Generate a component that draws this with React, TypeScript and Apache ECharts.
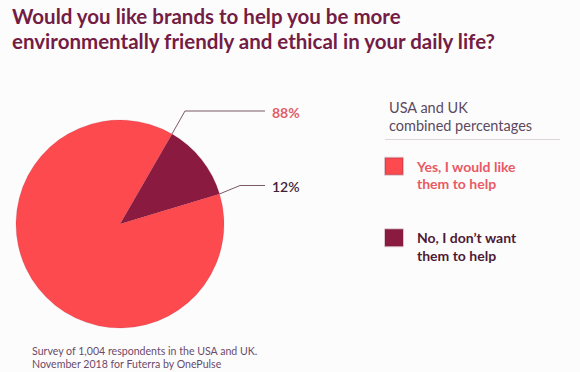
import React, { useEffect, useRef } from "react";
import * as echarts from "echarts";

const TITLE = "Would you like brands to help you be more\nenvironmentally friendly and ethical in your daily life?";
const LEGEND_HEADER = "USA and UK\ncombined percentages";
const FOOTER = "Survey of 1,004 respondents in the USA and UK.\nNovember 2018 for Futerra by OnePulse";

const categories = ["No, I don\u2019t want\nthem to help", "Yes, I would like\nthem to help"];
const values = [12, 88];
const labelTexts = ["12%", "88%"];
const legendOrder = [1, 0];

const COLORS = ["#8a1a40", "#fd4a4e"];
const LABEL_COLORS = ["#3d2236", "#e0606a"];
const LEGEND_COLORS = ["#4d1a36", "#e85a64"];

const CX = 120;
const CY = 224;
const R = 104;
const START_ANGLE = 60;

export default function App() {
  const ref = useRef<HTMLDivElement>(null);
  useEffect(() => {
    if (!ref.current) return;
    const chart = echarts.init(ref.current, null, { renderer: "svg" });
    const total = values.reduce((a, b) => a + b, 0);
    const boundaries: number[] = [];
    let acc = START_ANGLE;
    values.forEach((v) => {
      boundaries.push(acc);
      acc -= (v / total) * 360;
    });
    const pt = (deg: number) => {
      const a = (deg * Math.PI) / 180;
      return [CX + R * Math.cos(a), CY - R * Math.sin(a)];
    };
    const anchorAngles = [boundaries[0] - (values[0] / total) * 360, boundaries[0]];
    const elbows = [
      [240, 185.5],
      [185, 111],
    ];
    const labelX = 272;
    const lineEndX = 265;

    chart.setOption({
      animation: false,
      backgroundColor: "#fdfcfd",
      title: [
        {
          text: TITLE,
          left: 7,
          top: -1,
          textStyle: {
            fontFamily: "Lato",
            fontWeight: "bold",
            fontSize: 20.5,
            lineHeight: 24.5,
            color: "#731d45",
          },
        },
        {
          text: LEGEND_HEADER,
          left: 384,
          top: 93,
          textStyle: {
            fontFamily: "Lato",
            fontWeight: "normal",
            fontSize: 14.5,
            lineHeight: 18.5,
            color: "#5b4a5e",
          },
        },
        {
          text: FOOTER,
          left: 27,
          top: 340,
          textStyle: {
            fontFamily: "Lato",
            fontWeight: "normal",
            fontSize: 10.6,
            lineHeight: 12.4,
            color: "#6b4b68",
          },
        },
      ],
      legend: {
        orient: "vertical",
        left: 384,
        top: 140,
        padding: 0,
        itemWidth: 18,
        itemHeight: 17,
        itemGap: 19,
        icon: "rect",
        selectedMode: false,
        formatter: (name: string) => "\n" + name,
        data: legendOrder.map((i) => ({
          name: categories[i],
          textStyle: { color: LEGEND_COLORS[i] },
        })),
        textStyle: {
          fontFamily: "Lato",
          fontWeight: "bold",
          fontSize: 14,
          lineHeight: 17.5,
          padding: [0, 0, 0, 9],
        },
      },
      graphic: [
        {
          type: "line",
          shape: { x1: 385, y1: 139.5, x2: 560, y2: 139.5 },
          style: { stroke: "#dcd6da", lineWidth: 1 },
        },
      ],
      series: [
        {
          type: "pie",
          center: [CX, CY],
          radius: R,
          startAngle: START_ANGLE,
          clockwise: true,
          avoidLabelOverlap: false,
          itemStyle: { borderColor: "rgba(120,30,60,0.25)", borderWidth: 0.6 },
          data: values.map((v, i) => ({
            name: categories[i],
            value: v,
            itemStyle: { color: COLORS[i] },
            label: {
              color: LABEL_COLORS[i],
              fontWeight: i === 1 ? "bold" : 600,
            },
          })),
          label: {
            show: true,
            position: "outside",
            formatter: (p: any) => labelTexts[p.dataIndex],
            fontFamily: "Lato",
            fontSize: 14,
          },
          labelLine: {
            show: true,
            lineStyle: { color: "#7a5868", width: 1 },
          },
          labelLayout: (params: any) => {
            const i = params.dataIndex;
            const s = pt(anchorAngles[i]);
            const e = elbows[i];
            return {
              x: labelX,
              y: e[1] + 1,
              align: "left",
              verticalAlign: "middle",
              labelLinePoints: [s, e, [lineEndX, e[1]]],
            };
          },
          emphasis: { disabled: true },
        },
      ],
    });
    return () => chart.dispose();
  }, []);
  return (
    <div
      ref={ref}
      style={{ position: "fixed", left: 0, top: 0, width: 580, height: 372 }}
    />
  );
}
